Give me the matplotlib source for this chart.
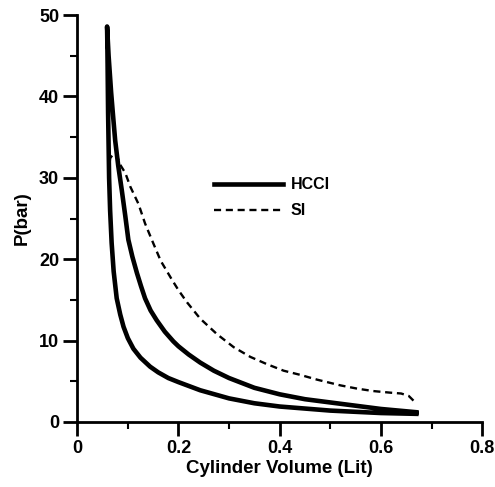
import numpy as np
import matplotlib
matplotlib.use('Agg')
import matplotlib.pyplot as plt

plt.rcParams['font.family'] = ['Liberation Sans', 'DejaVu Sans']
plt.rcParams['font.weight'] = 'bold'

# HCCI: compression stroke (lower branch), then expansion (upper branch)
hcci_comp_v = [0.67, 0.60, 0.50, 0.40, 0.35, 0.30, 0.243, 0.20, 0.18, 0.16,
               0.144, 0.125, 0.111, 0.10, 0.0915, 0.085, 0.078, 0.072, 0.068,
               0.065, 0.063, 0.062, 0.061, 0.0605, 0.060, 0.0595, 0.059]
hcci_comp_p = [1.0, 1.1, 1.4, 1.9, 2.3, 2.9, 3.9, 4.9, 5.4, 6.1,
               6.8, 7.9, 9.0, 10.3, 11.7, 13.2, 15.2, 18.5, 22.0,
               26.0, 30.0, 34.0, 38.0, 41.0, 44.0, 46.5, 48.6]
hcci_exp_v = [0.059, 0.062, 0.067, 0.071, 0.075, 0.081, 0.088, 0.095, 0.101,
              0.109, 0.118, 0.126, 0.134, 0.145, 0.157, 0.173, 0.19, 0.20,
              0.22, 0.243, 0.27, 0.30, 0.35, 0.40, 0.45, 0.50, 0.55, 0.60, 0.67]
hcci_exp_p = [48.6, 45.0, 40.5, 37.5, 34.6, 31.5, 28.5, 25.3, 22.4,
              20.3, 18.3, 16.7, 15.2, 13.7, 12.5, 11.1, 9.9, 9.3,
              8.3, 7.3, 6.3, 5.4, 4.2, 3.4, 2.8, 2.4, 2.0, 1.6, 1.2]

si_v = [0.062, 0.065, 0.072, 0.078, 0.085, 0.095, 0.105, 0.121, 0.134, 0.150,
        0.165, 0.187, 0.200, 0.217, 0.243, 0.276, 0.309, 0.342, 0.375, 0.408,
        0.44, 0.474, 0.52, 0.553, 0.585, 0.619, 0.64, 0.655, 0.668]
si_p = [30.5, 32.4, 33.0, 32.8, 31.6, 30.6, 28.9, 26.8, 24.4, 22.0,
        19.8, 17.5, 16.2, 14.7, 12.7, 10.8, 9.2, 8.0, 7.1, 6.3,
        5.8, 5.2, 4.5, 4.1, 3.8, 3.6, 3.5, 3.2, 2.4]

fig = plt.figure(figsize=(4.95, 4.87), dpi=100)
ax = fig.add_axes([0.156, 0.1335, 0.818, 0.8355])

ax.plot(hcci_comp_v + hcci_exp_v, hcci_comp_p + hcci_exp_p, color='black',
        lw=3.3, solid_joinstyle='round', label='HCCI')
ax.plot(si_v, si_p, color='black', lw=1.7, dashes=(3, 2), label='SI')

ax.set_xlim(0, 0.8)
ax.set_ylim(0, 50)
ax.set_xticks([0, 0.2, 0.4, 0.6, 0.8])
ax.set_xticklabels(['0', '0.2', '0.4', '0.6', '0.8'])
ax.set_xticks(np.arange(0.1, 0.8, 0.2), minor=True)
ax.set_yticks([0, 10, 20, 30, 40, 50])
ax.set_yticks(np.arange(5, 50, 10), minor=True)

for s in ['top', 'right']:
    ax.spines[s].set_visible(False)
for s in ['left', 'bottom']:
    ax.spines[s].set_linewidth(2)
ax.tick_params(which='major', direction='out', length=10, width=2,
               labelsize=13, pad=3)
ax.tick_params(which='minor', direction='out', length=5, width=1.5)

ax.set_xlabel('Cylinder Volume (Lit)', fontsize=13.5, fontweight='bold', labelpad=2)
ax.set_ylabel('P(bar)', fontsize=13.5, fontweight='bold', labelpad=6)

ax.legend(loc='upper left', bbox_to_anchor=(0.303, 0.637), frameon=False,
          handlelength=4.3, fontsize=11.5, labelspacing=0.7, handletextpad=0.5)

fig.savefig('out.png', dpi=100)
